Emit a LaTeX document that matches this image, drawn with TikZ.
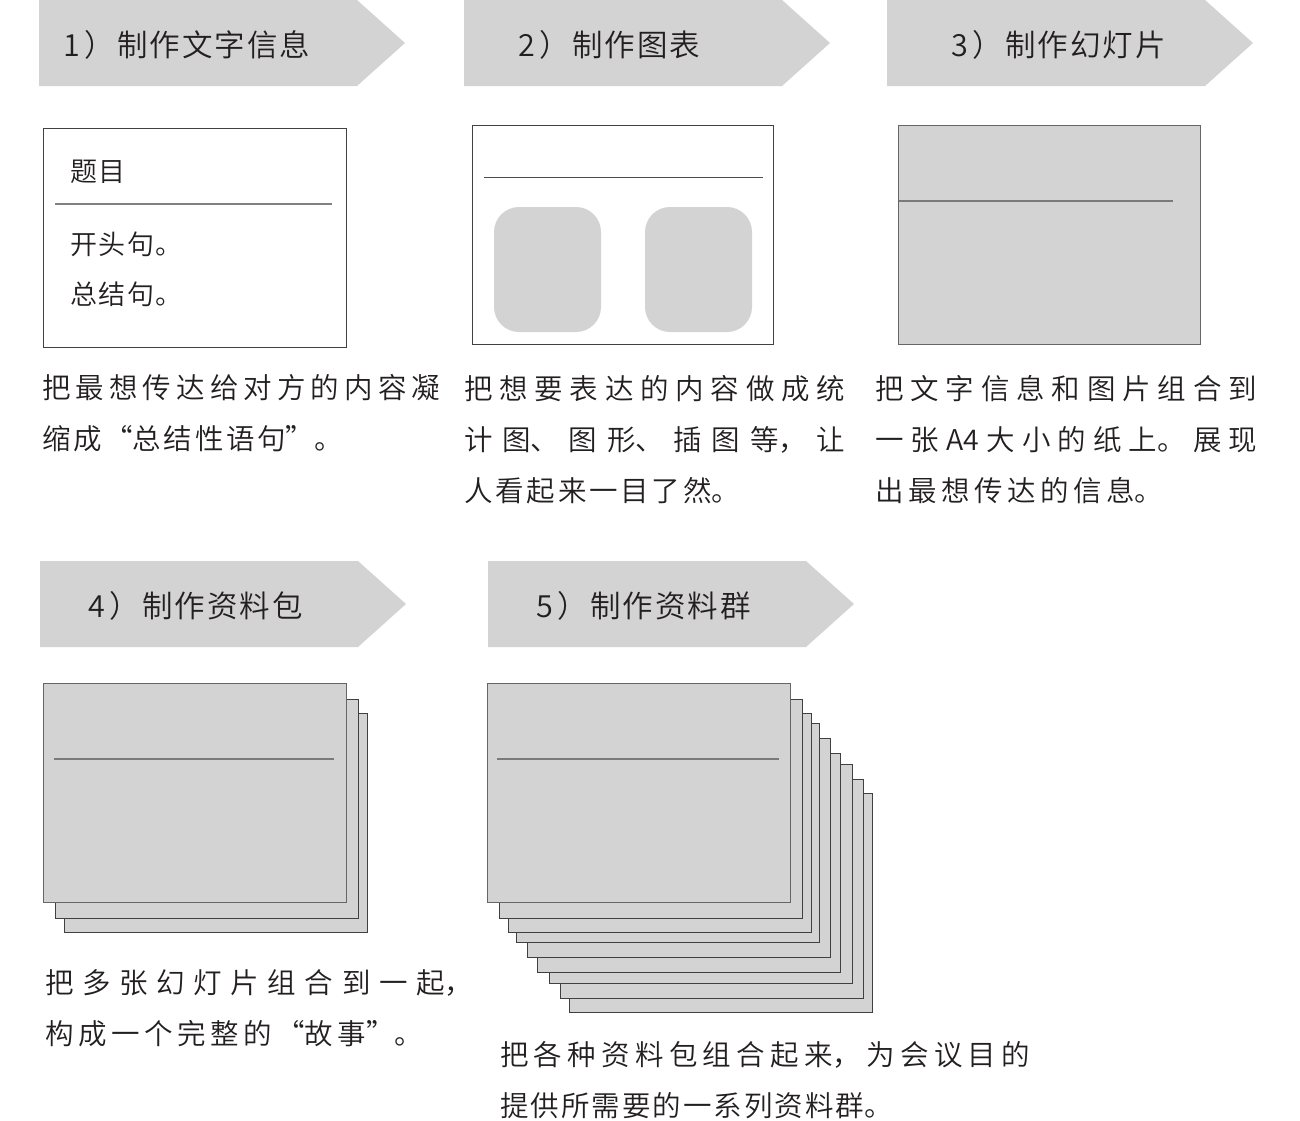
\documentclass[tikz,border=0pt]{standalone}
\usepackage{fontspec}
\setmainfont{Noto Sans CJK SC}[UprightFont={* DemiLight}]
\usepackage{xcolor}
\usepackage{tikz}
\usetikzlibrary{positioning}

\XeTeXlinebreaklocale "zh"
\XeTeXlinebreakskip=2pt plus 1fil
\setlength\parindent{0pt}

\definecolor{panel}{HTML}{D3D3D3}
\definecolor{ink}{HTML}{231F20}
\definecolor{rulegray}{HTML}{7A7A7A}

\newcommand\capfont{\fontsize{28.5}{51}\selectfont}

\begin{document}
\begin{tikzpicture}[x=1pt, y=-1pt,
    band/.style={fill=panel, draw=none},
    bandtext/.style={anchor=base west, inner sep=0pt, text=ink,
        font=\fontsize{30.5}{36}\selectfont\addfontfeatures{LetterSpace=6.5}},
    boxtext/.style={anchor=base west, inner sep=0pt, text=ink,
        font=\fontsize{27}{34}\selectfont\addfontfeatures{LetterSpace=5.5}},
    captext/.style={anchor=north west, inner sep=0pt, text=ink, align=justify, font=\capfont,
        execute at begin node={\XeTeXlinebreakskip=#1 plus 1fil\parfillskip=0pt plus 1fill\strut}},
    captext/.default=2pt,
    card/.style={draw=ink!85, line width=1pt, fill=white},
    slide/.style={draw=black!60, line width=1pt, fill=panel},
    sheet/.style={draw=black!75, line width=1pt, fill=panel},
    split/.style={draw=rulegray, line width=1.5pt},
    chart/.style={fill=panel, draw=none, rounded corners=25pt}
]
    \useasboundingbox (0,0) rectangle (1300,1120);

    % step bands
    \foreach \x/\y/\tx/\n/\lbl in {39/0/63/1/制作文字信息, 464/0/518/2/制作图表,
        887/0/951/3/制作幻灯片, 40/561/88/4/制作资料包, 488/561/536/5/制作资料群}{
        \fill[band] (\x,\y) -- ++(318,0) -- ++(48,43) -- ++(-48,43) -- ++(-318,0) -- cycle;
        \node[bandtext] (step\n) at (\tx,\y+56) {\n\kern5pt）\lbl};
    }

    % 1) text card
    \draw[card] (43,128) rectangle (346,347);
    \node[boxtext] (title) at (70,181) {题目};
    \draw[split, draw=black!50] (55,204) -- (332,204);
    \node[boxtext] (openline) at (70,254) {开头句。};
    \node[boxtext] (sumline)  at (70,304) {总结句。};

    % 2) chart card
    \draw[card] (472,125) rectangle (773,344);
    \draw[split, draw=black!70, line width=1pt] (484,177) -- (763,177);
    \fill[chart] (494,207) rectangle (601,332);
    \fill[chart] (645,207) rectangle (752,332);

    % 3) slide
    \draw[slide] (898,125) rectangle (1200,344);
    \draw[split] (899,201) -- (1173,201);

    % 4) slide pack
    \foreach \dx/\dy in {21/30, 12/16}
        \draw[sheet] (43+\dx,683+\dy) rectangle ++(303,219);
    \draw[slide] (43,683) rectangle (346,902);
    \draw[split] (54,759) -- (334,759);

    % 5) pack group
    \foreach \dx/\dy in {82/110, 73/96, 62/81, 50/70, 40/55, 29/40, 21/30, 12/16}
        \draw[sheet] (487+\dx,683+\dy) rectangle ++(303,219);
    \draw[slide] (487,683) rectangle (790,902);
    \draw[split] (497,759) -- (779,759);

    % captions
    \node[captext=2.6pt, text width=398] (cap1) at (42,363)
        {把最想传达给对方的内容凝\linebreak 缩成“总结性语句”。};
    \node[captext=2.8pt, text width=381] (cap2) at (464,364)
        {把想要表达的内容做成统\linebreak 计图、图形、插图等，让\linebreak 人看起来一目了然。};
    \node[captext=4.5pt, text width=382] (cap3) at (875,364)
        {把文字信息和图片组合到\linebreak 一张A4大小的纸上。展现\linebreak 出最想传达的信息。};
    \node[captext=4.5pt, text width=428] (cap4) at (45,958)
        {把多张幻灯片组合到一起，\linebreak 构成一个完整的“故事”。};
    \node[captext, text width=530] (cap5) at (500,1030)
        {把各种资料包组合起来，为会议目的\linebreak 提供所需要的一系列资料群。};
\end{tikzpicture}
\end{document}
